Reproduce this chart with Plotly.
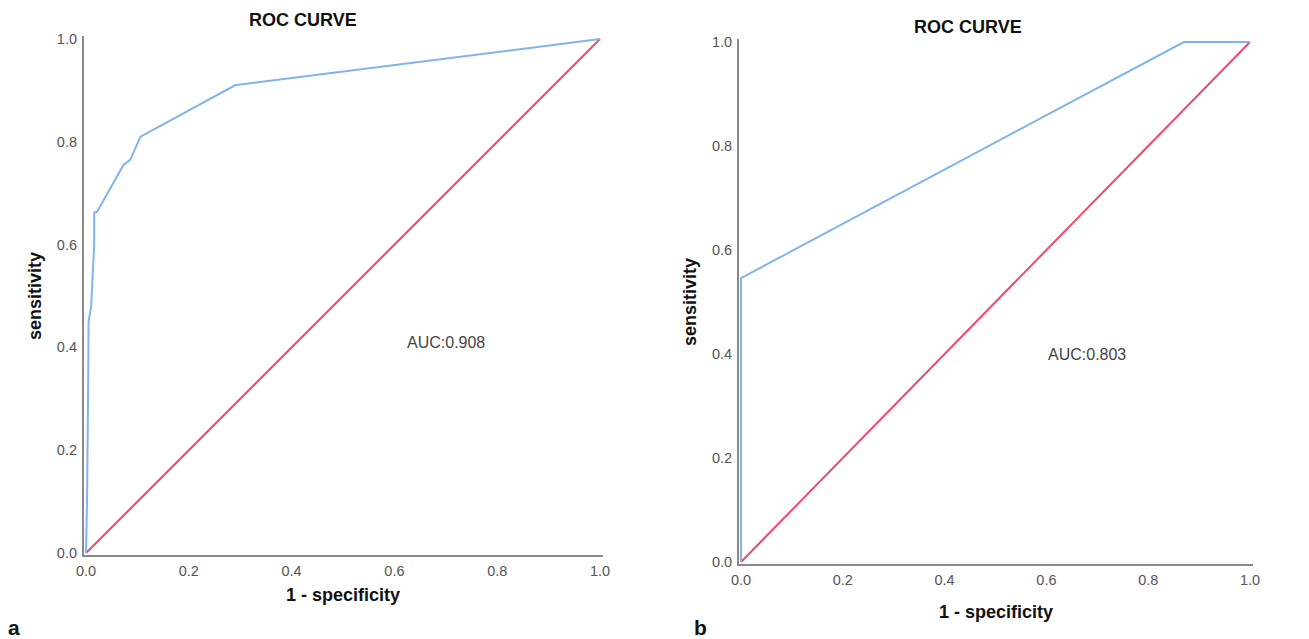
import plotly.graph_objects as go

# ---- data ----
fpr_a = [0.0, 0.002, 0.004, 0.005, 0.010, 0.013, 0.016, 0.016, 0.021, 0.073, 0.086, 0.106, 0.285, 0.290, 1.0]
tpr_a = [0.0, 0.10, 0.30, 0.45, 0.48, 0.55, 0.60, 0.663, 0.663, 0.755, 0.765, 0.810, 0.908, 0.910, 1.0]
fpr_b = [0.0, 0.0, 0.87, 1.0]
tpr_b = [0.0, 0.546, 1.0, 1.0]
diag = [0.0, 1.0]
auc_labels = ["AUC:0.908", "AUC:0.803"]
auc_pos = [(0.70, 0.41), (0.68, 0.40)]
panel_titles = ["ROC CURVE", "ROC CURVE"]
panel_letters = ["a", "b"]
ticks = [0.0, 0.2, 0.4, 0.6, 0.8, 1.0]
tick_text = ["0.0", "0.2", "0.4", "0.6", "0.8", "1.0"]

OFF = 8  # page body margin offset
W, H = 1309 - OFF, 639 - OFF
BLUE = "#80b4ee"
RED = "#ef4a6c"
AX = "#8a8a8a"

# pixel positions (in the screenshot) of value 0 and value 1 for each panel
px_a = dict(x0=86, x1=600, y0=553, y1=39)
px_b = dict(x0=741, x1=1250, y0=562, y1=42)
XR = [-0.004, 1.006]
YR = [-0.004, 1.006]


def fx(p):
    return (p - OFF) / W


def fy(p):
    return 1 - (p - OFF) / H


def dom(p):
    sx = p["x1"] - p["x0"]
    sy = p["y0"] - p["y1"]
    xd = [fx(p["x0"] + XR[0] * sx), fx(p["x0"] + XR[1] * sx)]
    yd = [fy(p["y0"] - YR[0] * sy), fy(p["y0"] - YR[1] * sy)]
    return xd, yd


xd_a, yd_a = dom(px_a)
xd_b, yd_b = dom(px_b)

fig = go.Figure()
fig.add_trace(go.Scatter(x=diag, y=diag, mode="lines", line=dict(color=RED, width=2), xaxis="x", yaxis="y", hoverinfo="skip"))
fig.add_trace(go.Scatter(x=fpr_a, y=tpr_a, mode="lines", line=dict(color=BLUE, width=2), xaxis="x", yaxis="y"))
fig.add_trace(go.Scatter(x=diag, y=diag, mode="lines", line=dict(color=RED, width=2), xaxis="x2", yaxis="y2", hoverinfo="skip"))
fig.add_trace(go.Scatter(x=fpr_b, y=tpr_b, mode="lines", line=dict(color=BLUE, width=2), xaxis="x2", yaxis="y2"))

axis_common = dict(
    range=XR, showgrid=False, zeroline=False, showline=True, linecolor=AX, linewidth=2,
    tickvals=ticks, ticktext=tick_text, ticks="outside", ticklen=2, tickcolor="rgba(0,0,0,0)",
    tickfont=dict(family="Arial", size=14.5, color="#555555"), fixedrange=True, automargin=False,
)

fig.update_layout(
    width=W, height=H, margin=dict(l=0, r=0, t=0, b=0, autoexpand=False),
    paper_bgcolor="white", plot_bgcolor="white", showlegend=False,
    xaxis=dict(domain=xd_a, anchor="y", **axis_common),
    yaxis=dict(domain=yd_a, anchor="x", **{**axis_common, "range": YR}),
    xaxis2=dict(domain=xd_b, anchor="y2", **axis_common),
    yaxis2=dict(domain=yd_b, anchor="x2", **{**axis_common, "range": YR}),
)

ann = []
panels = [(px_a, "x", "y"), (px_b, "x2", "y2")]
title_xy = [(303, 20), (968, 27)]
xlab_dy = [42, 50]
C = dict(xanchor="center", yanchor="middle", showarrow=False)
for i, (p, xa, ya) in enumerate(panels):
    cx = (p["x0"] + p["x1"]) / 2
    cy = (p["y0"] + p["y1"]) / 2
    ann.append(dict(x=fx(title_xy[i][0]), y=fy(title_xy[i][1]), xref="paper", yref="paper",
                    text="<b>" + panel_titles[i] + "</b>",
                    font=dict(family="Arial", size=18, color="#111111"), **C))
    ann.append(dict(x=fx(p["x0"] - 51), y=fy(cy), xref="paper", yref="paper", text="<b>sensitivity</b>",
                    textangle=-90, font=dict(family="Arial", size=18, color="#111111"), **C))
    ann.append(dict(x=fx(cx), y=fy(p["y0"] + xlab_dy[i]), xref="paper", yref="paper", text="<b>1 - specificity</b>",
                    font=dict(family="Arial", size=18, color="#111111"), **C))
    ann.append(dict(x=auc_pos[i][0], y=auc_pos[i][1], xref=xa, yref=ya, text=auc_labels[i],
                    font=dict(family="Arial", size=16, color="#444444"), **C))
ann.append(dict(x=fx(14), y=fy(627), xref="paper", yref="paper", text="<b>" + panel_letters[0] + "</b>",
                font=dict(family="Arial", size=21, color="#111111"), **C))
ann.append(dict(x=fx(700), y=fy(627), xref="paper", yref="paper", text="<b>" + panel_letters[1] + "</b>",
                font=dict(family="Arial", size=21, color="#111111"), **C))
fig.update_layout(annotations=ann)

fig.write_html("out.html")
